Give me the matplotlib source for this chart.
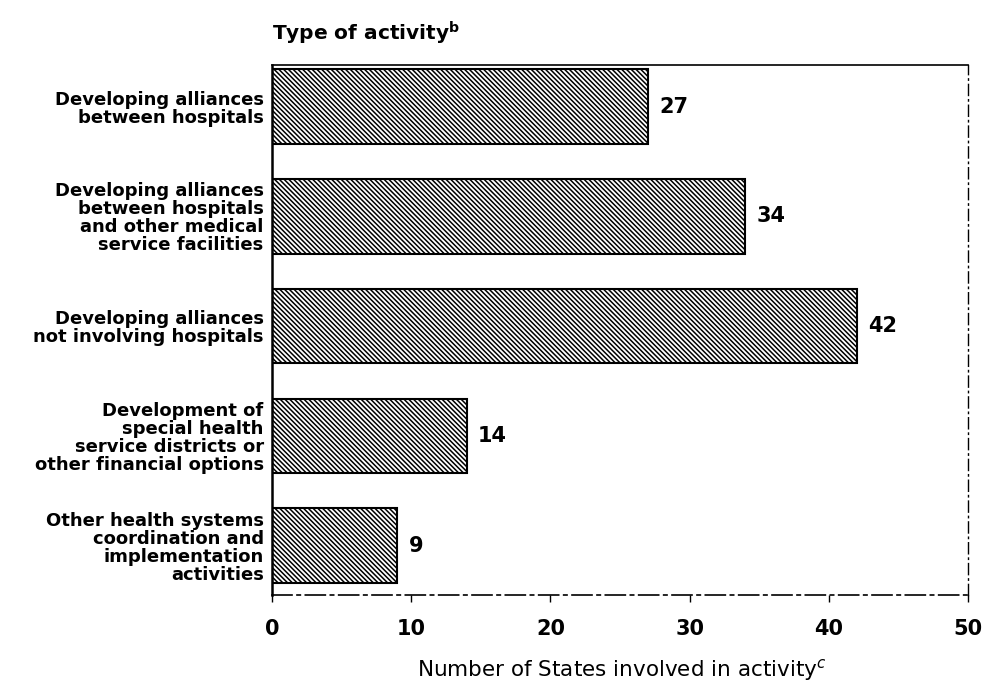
import matplotlib
matplotlib.use('Agg')
import matplotlib.pyplot as plt

# data
activities = [
    'Developing alliances\nbetween hospitals',
    'Developing alliances\nbetween hospitals\nand other medical\nservice facilities',
    'Developing alliances\nnot involving hospitals',
    'Development of\nspecial health\nservice districts or\nother financial options',
    'Other health systems\ncoordination and\nimplementation\nactivities',
]
num_states = [27, 34, 42, 14, 9]
x_ticks = [0, 10, 20, 30, 40, 50]

plt.rcParams['font.family'] = ['DejaVu Sans']
plt.rcParams['hatch.linewidth'] = 1.1

fig = plt.figure(figsize=(9.86, 6.93), dpi=100)
ax = fig.add_axes([272 / 986, 98 / 693, (968 - 272) / 986, (595 - 65) / 693])

ypos = list(range(len(activities)))
ax.barh(ypos, num_states, height=0.68, color='white', edgecolor='black',
        linewidth=1.5, hatch='\\' * 7)

for y, v in zip(ypos, num_states):
    ax.text(v + 0.8, y, str(v), va='center', ha='left', fontsize=15, fontweight='bold')

ax.set_xlim(0, 50)
ax.set_ylim(4.45, -0.38)
ax.set_yticks(ypos)
ax.set_yticklabels(activities, fontsize=13, fontweight='bold', linespacing=1.0)
ax.tick_params(axis='y', length=0, pad=6)
ax.set_xticks(x_ticks)
ax.set_xticklabels([str(t) for t in x_ticks], fontsize=15, fontweight='bold')
ax.tick_params(axis='x', direction='out', length=5, width=1, pad=12)

ax.spines['left'].set_linewidth(1.8)
ax.spines['top'].set_linewidth(1.2)
ax.spines['bottom'].set_linewidth(1.2)
ax.spines['right'].set_linewidth(1.0)
ax.spines['right'].set_linestyle((0, (8, 3, 1, 3)))
ax.spines['bottom'].set_linestyle((0, (12, 3, 2, 3)))

fig.text(272 / 986, 1 - 33 / 693, r'Type of activity$^{\mathbf{b}}$', fontsize=14.5,
         fontweight='bold', ha='left', va='center')
fig.text(622 / 986, 1 - 670 / 693, r'Number of States involved in activity$^{c}$',
         fontsize=15.5, ha='center', va='center')

plt.savefig('out.png', dpi=100)
